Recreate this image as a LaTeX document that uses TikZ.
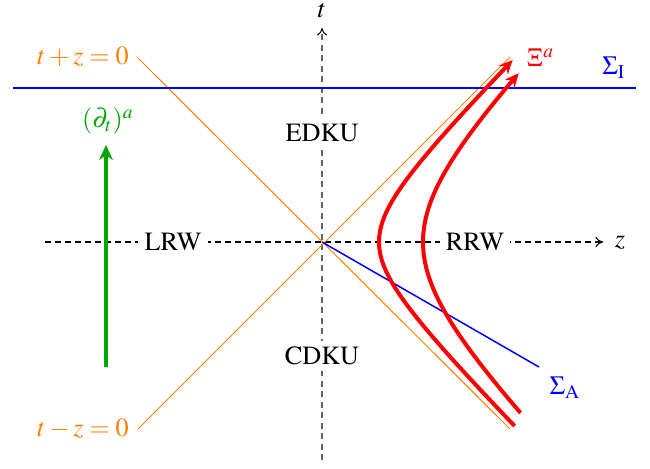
\documentclass[tikz,border=0pt]{standalone}
\usepackage[T1]{fontenc}
\usepackage{mathptmx}
\usetikzlibrary{arrows.meta}
\definecolor{lcorange}{RGB}{255,128,0}
\definecolor{vecgreen}{RGB}{0,165,0}
\tikzset{
  zaxis/.style={dash pattern=on 2.4pt off 1.6pt,line width=0.45pt,-{To[length=3pt,width=4pt]}},
  taxis/.style={dash pattern=on 2.4pt off 1.8pt,line width=0.7pt,black!60,-{To[length=3pt,width=4pt,color=black,line width=0.4pt]}},
  region/.style={fill=white,inner sep=2.5pt},
  cone/.style={lcorange,line width=0.4pt},
  worldline/.style={red,line width=1.6pt,-{Stealth[length=5.5pt,width=5pt]}},
  lab/.style={inner sep=0pt}
}
\begin{document}
\begin{tikzpicture}[x=0.4pt,y=-0.4pt,font=\fontsize{10.5}{12.6}\selectfont]
\useasboundingbox (0,0) rectangle (650,468);
% axes
\coordinate (O) at (322,242);
\coordinate (tB) at (322,460);
\coordinate (tT) at (322,28);
\coordinate (zL) at (45,242);
\coordinate (zR) at (603,242);
\draw[taxis] (tB) -- (tT);
\draw[zaxis] (zL) -- (zR);
\node[lab] (tlab) at (322,11) {$t$};
\node[lab] (zlab) at (620,243) {$z$};
\node[region] (LRW) at (173,242) {LRW};
\node[region] (RRW) at (475,242) {RRW};
\node[region] (EDKU) at (322,133) {EDKU};
\node[region] (CDKU) at (322,356) {CDKU};
% light cone
\coordinate (UL) at (138,58);
\coordinate (LR) at (510,429);
\coordinate (LL) at (138,429);
\coordinate (UR) at (510,57);
\draw[cone] (UL) -- (LR);
\draw[cone] (LL) -- (UR);
\node[lab,lcorange] (tpz) at (83,57) {$t+z=0$};
\node[lab,lcorange] (tmz) at (83,429) {$t-z=0$};
% Sigma_I
\coordinate (SIL) at (13,88);
\coordinate (SIR) at (636,88);
\draw[blue,line width=0.8pt] (SIL) -- (SIR);
\node[lab,blue] (SIlab) at (614,68) {$\Sigma_{\mathrm{I}}$};
% Sigma_A
\coordinate (SAE) at (539,367);
\draw[blue,line width=0.6pt] (O) -- (SAE);
\node[lab,blue] (SAlab) at (565,388) {$\Sigma_{\mathrm{A}}$};
% green vector
\coordinate (gB) at (106,367);
\coordinate (gT) at (106,145);
\draw[vecgreen,line width=1.6pt,-{Stealth[length=6pt,width=5.5pt]}] (gB) -- (gT);
\node[lab,vecgreen] (dtlab) at (108,121) {$(\partial_t)^a$};
% red worldlines (hyperbolae)
\draw[worldline] plot[smooth,samples=80,domain=-1.888:1.878,variable=\s]
  ({322+57*cosh(\s)},{242-57*sinh(\s)});
\draw[worldline] plot[smooth,samples=80,domain=-1.297:1.287,variable=\s]
  ({322+101*cosh(\s)},{242-101*sinh(\s)});
\node[lab,red,anchor=west] (Xilab) at (526,58) {$\Xi^a$};
\end{tikzpicture}
\end{document}
